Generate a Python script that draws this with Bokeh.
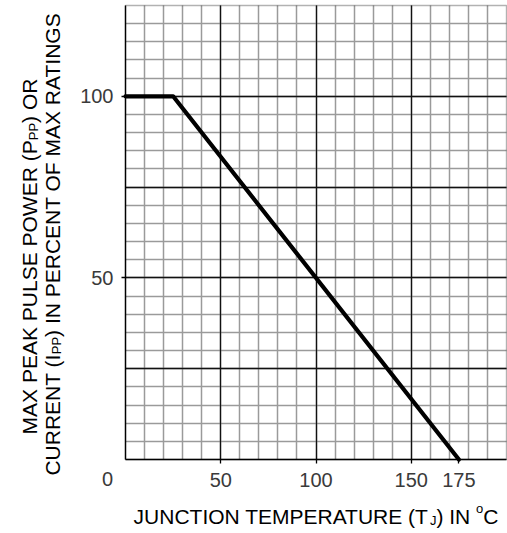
from bokeh.plotting import figure
from bokeh.models import Range1d, FixedTicker, Grid, Label, LinearAxis, BoxAnnotation
from bokeh.embed import file_html
from bokeh.resources import INLINE

# ---- data ----
temp_c = [0, 25, 175]
percent = [100, 100, 0]
x_limits = (0, 200)
y_limits = (0, 125)
x_tick_values = [50, 100, 150, 175]
y_tick_values = [50, 100]
x_major_grid = [50, 100, 150]
y_major_grid = [25, 50, 75, 100]
x_minor_grid = list(range(10, 200, 10))
y_minor_grid = list(range(5, 125, 5))
origin_label = "0"
x_title_parts = [("JUNCTION TEMPERATURE (T", "n"), ("J", "sub"), (") IN ", "n"), ("o", "sup"), ("C", "n")]
y_title_line1 = [("MAX PEAK PULSE POWER (P", "n"), ("PP", "sub"), (") OR", "n")]
y_title_line2 = [("CURRENT (I", "n"), ("PP", "sub"), (") IN PERCENT OF MAX RATINGS", "n")]

# ---- layout constants (pixels) ----
W, H = 507, 533
FL, FR, FT, FB = 125, 506, 5, 459
FONT = "Liberation Sans"
TITLE_SIZE = 21
SMALL_SIZE = 13
TICK_SIZE = 20
BASE_FIX = 9  # empirical shift of the alphabetic baseline

PXX = (FR - FL) / (x_limits[1] - x_limits[0])
PXY = (FB - FT) / (y_limits[1] - y_limits[0])
x_range = Range1d(x_limits[0] - FL / PXX, x_limits[1] + (W - FR) / PXX)
y_range = Range1d(y_limits[0] - (H - FB) / PXY, y_limits[1] + FT / PXY)

ARIAL = {' ': 278, '(': 333, ')': 333, 'A': 667, 'C': 722, 'E': 667, 'F': 611, 'G': 778,
         'I': 278, 'J': 500, 'K': 667, 'L': 556, 'M': 833, 'N': 722, 'O': 778, 'P': 667,
         'R': 722, 'S': 667, 'T': 611, 'U': 722, 'W': 944, 'X': 667, 'o': 556}


def text_w(s, size):
    return sum(ARIAL.get(c, 600) for c in s) * size / 1000.0


def part_size(kind):
    return TITLE_SIZE if kind == "n" else SMALL_SIZE


def parts_width(parts):
    return sum(text_w(s, part_size(k)) for s, k in parts)


p = figure(width=W, height=H, x_range=x_range, y_range=y_range,
           output_backend="svg", toolbar_location=None,
           x_axis_location=None, y_axis_location=None,
           min_border=0, min_border_left=0, min_border_right=0,
           min_border_top=0, min_border_bottom=0,
           styles={"position": "absolute", "left": "0px", "top": "0px"})
p.background_fill_color = "white"
p.border_fill_color = "white"
p.outline_line_color = None
p.grid.visible = False

# grids
MINOR = "#9a9a9a"
MAJOR = "#111111"
p.add_layout(Grid(dimension=0, ticker=FixedTicker(ticks=x_minor_grid), cross_bounds=y_limits,
                  grid_line_color=MINOR, grid_line_width=1.5))
p.add_layout(Grid(dimension=1, ticker=FixedTicker(ticks=y_minor_grid), cross_bounds=x_limits,
                  grid_line_color=MINOR, grid_line_width=1.5))
p.add_layout(Grid(dimension=0, ticker=FixedTicker(ticks=x_major_grid), cross_bounds=y_limits,
                  grid_line_color=MAJOR, grid_line_width=1.3))
p.add_layout(Grid(dimension=1, ticker=FixedTicker(ticks=y_major_grid), cross_bounds=x_limits,
                  grid_line_color=MAJOR, grid_line_width=1.3))

# chart border
p.add_layout(BoxAnnotation(left=x_limits[0], right=x_limits[1], bottom=y_limits[0], top=y_limits[1],
                           fill_alpha=0, line_color="black", line_width=1.4))

# axes placed at the chart edges
xaxis = LinearAxis(fixed_location=y_limits[0], bounds=x_limits,
                   ticker=FixedTicker(ticks=x_tick_values, minor_ticks=[]))
yaxis = LinearAxis(fixed_location=x_limits[0], bounds=y_limits,
                   ticker=FixedTicker(ticks=y_tick_values, minor_ticks=[]))
for ax in (xaxis, yaxis):
    ax.major_tick_out = 4
    ax.major_tick_in = 0
    ax.minor_tick_out = 0
    ax.minor_tick_in = 0
    ax.major_tick_line_color = "black"
    ax.major_tick_line_width = 1.3
    ax.axis_line_color = "black"
    ax.axis_line_width = 1.4
    ax.major_label_text_font = FONT
    ax.major_label_text_font_size = f"{TICK_SIZE}px"
    ax.major_label_text_color = "#3a3a3a"
xaxis.major_label_standoff = 9
yaxis.major_label_standoff = 8
yaxis.major_label_orientation = "horizontal"
p.add_layout(xaxis, "below")
p.add_layout(yaxis, "left")

# data line
p.line(temp_c, percent, line_color="black", line_width=4.2, line_join="round", line_cap="round")

# origin "0" label
p.add_layout(Label(x=x_limits[0], y=y_limits[0], x_offset=-18, y_offset=-(487 - FB) + BASE_FIX,
                   text=origin_label, text_font=FONT, text_font_size=f"{TICK_SIZE}px",
                   text_color="#3a3a3a", text_align="center", text_baseline="alphabetic"))

# x title (composed of pieces for subscript / superscript)
total = parts_width(x_title_parts)
cur = (FL + FR) / 2.0 - total / 2.0 - FL
base_off = -(525 - FB) + BASE_FIX
for s, k in x_title_parts:
    size = part_size(k)
    dy = {"n": 0, "sub": -4, "sup": 8}[k]
    p.add_layout(Label(x=x_limits[0], y=y_limits[0], x_offset=cur, y_offset=base_off + dy, text=s,
                       text_font=FONT, text_font_size=f"{size}px", text_color="black",
                       text_align="left", text_baseline="alphabetic"))
    cur += text_w(s, size)

# y title (two rotated lines)
for parts, base_x, yc in ((y_title_line1, 38, 256), (y_title_line2, 61, 243)):
    total = parts_width(parts)
    cur = (FB - yc) - total / 2.0
    for s, k in parts:
        size = part_size(k)
        dx = {"n": 0, "sub": 4, "sup": -8}[k]
        p.add_layout(Label(x=x_limits[0], y=y_limits[0], x_offset=base_x - FL + dx - BASE_FIX,
                           y_offset=cur, text=s, text_font=FONT, text_font_size=f"{size}px",
                           text_color="black", text_align="left", text_baseline="alphabetic",
                           angle=90, angle_units="deg"))
        cur += text_w(s, size)

open("out.html", "w").write(file_html(p, INLINE))
